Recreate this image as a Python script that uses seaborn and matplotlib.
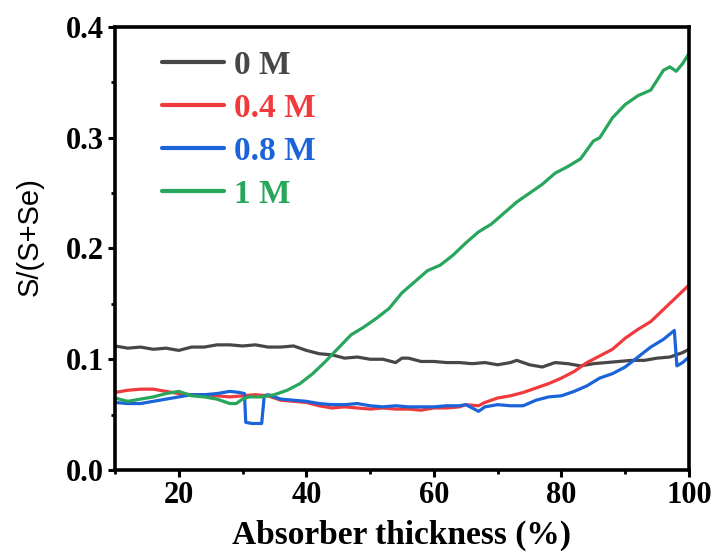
import matplotlib
matplotlib.use("Agg")
import matplotlib.pyplot as plt
import seaborn as sns
import pandas as pd
from matplotlib.ticker import MultipleLocator

# ---- data ----
x_0M = [10, 12, 14, 16, 18, 20, 22, 24, 26, 28, 30, 32, 34, 36, 38, 40, 42, 44, 46, 48,
        50, 52, 54, 55, 56, 58, 60, 62, 64, 66, 68, 70, 72, 73, 75, 77, 79, 81, 83, 85,
        87, 89, 91, 93, 95, 97, 99, 100]
y_0M = [0.112, 0.110, 0.111, 0.109, 0.110, 0.108, 0.111, 0.111, 0.113, 0.113, 0.112, 0.113,
        0.111, 0.111, 0.112, 0.108, 0.105, 0.104, 0.101, 0.102, 0.100, 0.100, 0.097, 0.101,
        0.101, 0.098, 0.098, 0.097, 0.097, 0.096, 0.097, 0.095, 0.097, 0.099, 0.095, 0.093,
        0.097, 0.096, 0.094, 0.096, 0.097, 0.098, 0.099, 0.099, 0.101, 0.102, 0.106, 0.109]

x_04M = [10, 12, 14, 16, 18, 20, 22, 24, 26, 28, 30, 32, 34, 36, 38, 40, 42, 44, 46, 48,
         50, 52, 54, 56, 58, 60, 62, 64, 65, 67, 68, 70, 72, 74, 76, 78, 80, 82, 84, 86,
         88, 90, 92, 94, 96, 98, 100]
y_04M = [0.070, 0.072, 0.073, 0.073, 0.071, 0.069, 0.068, 0.068, 0.067, 0.066, 0.067, 0.068,
         0.067, 0.063, 0.062, 0.061, 0.058, 0.056, 0.057, 0.056, 0.055, 0.056, 0.055, 0.055,
         0.054, 0.056, 0.056, 0.057, 0.059, 0.058, 0.061, 0.065, 0.067, 0.070, 0.074, 0.078,
         0.083, 0.089, 0.097, 0.103, 0.109, 0.119, 0.127, 0.134, 0.145, 0.156, 0.167]

x_08M = [10, 12, 14, 16, 18, 20, 22, 24, 26, 28, 29.5, 30.3, 30.5, 31.5, 33.0, 33.4, 34, 36,
         38, 40, 42, 44, 46, 48, 50, 52, 54, 56, 58, 60, 62, 64, 65, 66, 67, 68, 70, 72, 74,
         76, 78, 80, 82, 84, 86, 88, 90, 92, 94, 96, 97.7, 98.1, 99, 100]
y_08M = [0.061, 0.060, 0.060, 0.062, 0.064, 0.066, 0.068, 0.068, 0.069, 0.071, 0.070, 0.069,
         0.043, 0.042, 0.042, 0.067, 0.068, 0.064, 0.063, 0.062, 0.060, 0.059, 0.059, 0.060,
         0.058, 0.057, 0.058, 0.057, 0.057, 0.057, 0.058, 0.058, 0.059, 0.056, 0.053, 0.057,
         0.059, 0.058, 0.058, 0.063, 0.066, 0.067, 0.071, 0.076, 0.083, 0.087, 0.093, 0.102,
         0.111, 0.118, 0.126, 0.094, 0.097, 0.102]

x_1M = [10, 12, 14, 16, 18, 20, 22, 24, 26, 28, 29, 30, 31, 33, 35, 37, 39, 41, 43, 45, 47,
        49, 51, 53, 55, 57, 59, 61, 63, 65, 67, 69, 71, 73, 75, 77, 79, 81, 83, 85, 86, 88,
        90, 92, 94, 96, 97, 98, 99, 100]
y_1M = [0.065, 0.062, 0.064, 0.066, 0.069, 0.071, 0.067, 0.066, 0.064, 0.060, 0.060, 0.064,
        0.066, 0.066, 0.068, 0.072, 0.078, 0.087, 0.098, 0.110, 0.122, 0.129, 0.137, 0.146,
        0.160, 0.170, 0.180, 0.185, 0.194, 0.205, 0.215, 0.222, 0.232, 0.242, 0.250, 0.258,
        0.268, 0.274, 0.281, 0.297, 0.300, 0.318, 0.330, 0.338, 0.343, 0.361, 0.364, 0.360,
        0.367, 0.376]

labels = ["0 M", "0.4 M", "0.8 M", "1 M"]
colors = ["#474747", "#f03a3d", "#1a63d8", "#27a65c"]

xlabel = "Absorber thickness (%)"
ylabel = "S/(S+Se)"

# ---- long-format table ----
frames = []
for lab, xs, ys in zip(labels, [x_0M, x_04M, x_08M, x_1M], [y_0M, y_04M, y_08M, y_1M]):
    frames.append(pd.DataFrame({"x": xs, "y": ys, "series": lab}))
df = pd.concat(frames, ignore_index=True)

sns.set_style("ticks")
plt.rcParams["font.family"] = ["Liberation Serif", "DejaVu Serif"]
plt.rcParams["font.weight"] = "bold"
plt.rcParams["text.color"] = "black"
plt.rcParams["axes.labelcolor"] = "black"
plt.rcParams["xtick.color"] = "black"
plt.rcParams["ytick.color"] = "black"

fig = plt.figure(figsize=(7.18, 5.53), dpi=100)
ax = fig.add_axes([115 / 718, 1 - 470 / 553, 574 / 718, 443 / 553])

sns.lineplot(data=df, x="x", y="y", hue="series", hue_order=labels,
             palette=colors, linewidth=2.3, ax=ax, sort=False, estimator=None)

ax.set_xlim(10, 100)
ax.set_ylim(0, 0.4)
ax.xaxis.set_major_locator(MultipleLocator(20))
ax.xaxis.set_minor_locator(MultipleLocator(10))
ax.yaxis.set_major_locator(MultipleLocator(0.1))
ax.yaxis.set_minor_locator(MultipleLocator(0.05))

for s in ax.spines.values():
    s.set_linewidth(2.6)
    s.set_color("black")
ax.tick_params(which="major", direction="out", length=5, width=2.2,
               labelsize=22, pad=3, top=False, right=False, colors="black",
               labelcolor="black")
ax.tick_params(which="minor", direction="out", length=3, width=2.0,
               top=False, right=False, colors="black")
for t in ax.get_xticklabels() + ax.get_yticklabels():
    t.set_fontweight("bold")
    t.set_fontfamily(["Liberation Serif"])

ax.set_xlabel(xlabel, fontsize=24, fontweight="bold", family=["Liberation Serif"],
              color="black")
ax.set_ylabel(ylabel, fontsize=21, fontweight="normal", family=["Liberation Sans"],
              color="black")
ax.xaxis.set_label_coords(0.5, -0.112)
ax.yaxis.set_label_coords(-0.125, 0.526)

leg = ax.legend(loc="upper left", bbox_to_anchor=(47 / 574, 1 - 23 / 443),
                frameon=False, handlelength=1.85, handletextpad=0.3,
                labelspacing=0.36, borderpad=0, borderaxespad=0,
                prop={"family": ["Liberation Serif"], "weight": "bold", "size": 24})
for line, txt, c in zip(leg.get_lines(), leg.get_texts(), colors):
    line.set_linewidth(3.0)
    txt.set_color(c)

fig.savefig("out.png", dpi=100, facecolor="white")
